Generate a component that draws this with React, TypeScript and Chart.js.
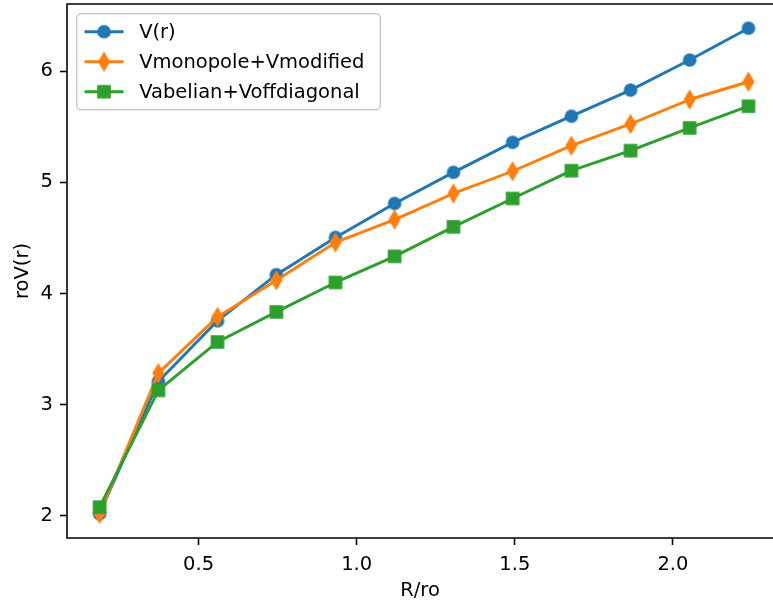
import React, { useEffect, useRef } from 'react';
import { Chart, registerables } from 'chart.js';

Chart.register(...registerables);

// ---- data ----
const rOverR0 = [0.187, 0.373, 0.56, 0.746, 0.933, 1.12, 1.306, 1.493, 1.679, 1.866, 2.053, 2.239];
const vTotal = [2.02, 3.21, 3.755, 4.17, 4.505, 4.81, 5.09, 5.36, 5.595, 5.83, 6.1, 6.386];
const vMonoMod = [2.02, 3.285, 3.79, 4.12, 4.46, 4.665, 4.9, 5.1, 5.33, 5.525, 5.745, 5.905];
const vAbelOff = [2.08, 3.13, 3.565, 3.835, 4.1, 4.335, 4.6, 4.855, 5.105, 5.285, 5.49, 5.685];
const seriesLabels = ['V(r)', 'Vmonopole+Vmodified', 'Vabelian+Voffdiagonal'];
const xTicks = [0.5, 1.0, 1.5, 2.0];
const yTicks = [2, 3, 4, 5, 6];
const xTitle = 'R/ro';
const yTitle = 'roV(r)';
// visible axis window (the right-hand spine lies just past the picture's edge)
const xMin = 0.084;
const xMax = 2.3165;
const yMin = 1.802;
const yMax = 6.604;

// ---- style ----
const PXPT = 1.95;
const FS = 19.5;
const FONT = '"DejaVu Sans", sans-serif';
const LW = 1.5 * PXPT;
const MS = 6 * PXPT;
const EDGE = 1.0 * PXPT;
const COLORS = ['#1f77b4', '#ff7f0e', '#2ca02c'];
const KINDS = ['circle', 'diamond', 'square'];
const CANVAS_W = 773;
const CANVAS_H = 605;

function makeMarker(kind: string, color: string): HTMLCanvasElement {
  const c = document.createElement('canvas');
  c.width = 24;
  c.height = 24;
  const g = c.getContext('2d')!;
  g.fillStyle = color;
  g.strokeStyle = color;
  g.lineWidth = EDGE;
  g.lineJoin = 'miter';
  const cx = 12;
  const cy = 12;
  g.beginPath();
  if (kind === 'circle') {
    g.arc(cx, cy, MS / 2, 0, Math.PI * 2);
  } else if (kind === 'square') {
    g.rect(cx - MS / 2, cy - MS / 2, MS, MS);
  } else {
    const h = (MS * Math.SQRT2) / 2;
    const w = h * 0.6;
    g.moveTo(cx, cy - h);
    g.lineTo(cx + w, cy);
    g.lineTo(cx, cy + h);
    g.lineTo(cx - w, cy);
    g.closePath();
  }
  g.fill();
  g.stroke();
  return c;
}

const framePlugin = {
  id: 'mplFrame',
  afterDatasetsDraw(chart: any) {
    const { ctx, chartArea: a } = chart;
    ctx.save();
    // keep the right edge of the plotting area clean (its spine lies beyond the picture)
    ctx.fillStyle = '#fff';
    ctx.fillRect(a.right - 3, a.top, 3, a.bottom - a.top);
    ctx.strokeStyle = '#000';
    ctx.lineWidth = 0.8 * PXPT;
    ctx.beginPath();
    ctx.moveTo(chart.width + 2, a.top);
    ctx.lineTo(a.left, a.top);
    ctx.lineTo(a.left, a.bottom);
    ctx.lineTo(chart.width + 2, a.bottom);
    ctx.stroke();
    ctx.restore();
  },
};

const legendPlugin = {
  id: 'mplLegend',
  afterDatasetsDraw(chart: any) {
    const { ctx, chartArea: a } = chart;
    const markers: HTMLCanvasElement[] = chart.$mplMarkers || [];
    ctx.save();
    ctx.font = `${FS}px ${FONT}`;
    const pad = 0.4 * FS;
    const rowH = 1.04 * FS;
    const sp = 0.5 * FS;
    const handleL = 2 * FS;
    const tp = 0.8 * FS;
    const x0 = a.left + 0.5 * FS;
    const y0 = a.top + 0.5 * FS;
    const maxW = Math.max(...seriesLabels.map((l) => ctx.measureText(l).width));
    const w = pad + handleL + tp + maxW + pad + 8;
    const h = 2 * pad + seriesLabels.length * rowH + (seriesLabels.length - 1) * sp;
    ctx.beginPath();
    ctx.roundRect(x0, y0, w, h, 4);
    ctx.fillStyle = 'rgba(255,255,255,0.8)';
    ctx.fill();
    ctx.strokeStyle = '#cccccc';
    ctx.lineWidth = 1.5;
    ctx.stroke();
    seriesLabels.forEach((label, i) => {
      const cy = y0 + pad + rowH / 2 + i * (rowH + sp);
      const hx0 = x0 + pad;
      ctx.beginPath();
      ctx.moveTo(hx0, cy);
      ctx.lineTo(hx0 + handleL, cy);
      ctx.strokeStyle = COLORS[i];
      ctx.lineWidth = LW;
      ctx.stroke();
      const m = markers[i];
      if (m) ctx.drawImage(m, hx0 + handleL / 2 - m.width / 2, cy - m.height / 2);
      ctx.fillStyle = '#000';
      ctx.textAlign = 'left';
      ctx.textBaseline = 'middle';
      ctx.fillText(label, hx0 + handleL + tp, cy + 1);
    });
    ctx.restore();
  },
};

export default function App() {
  const ref = useRef<HTMLCanvasElement>(null);

  useEffect(() => {
    const canvas = ref.current;
    if (!canvas) return;
    const markers = KINDS.map((k, i) => makeMarker(k, COLORS[i]));
    const series = [vTotal, vMonoMod, vAbelOff];
    const font = { family: FONT, size: FS };
    const chart: any = new Chart(canvas, {
      type: 'line',
      data: {
        datasets: series.map((s, i) => ({
          label: seriesLabels[i],
          data: s.map((y, j) => ({ x: rOverR0[j], y })),
          borderColor: COLORS[i],
          backgroundColor: COLORS[i],
          borderWidth: LW,
          borderJoinStyle: 'round',
          pointStyle: markers[i],
          pointRadius: 6,
          pointHoverRadius: 6,
          tension: 0,
          fill: false,
          order: 3 - i,
        })),
      },
      options: {
        responsive: false,
        animation: false,
        devicePixelRatio: 1,
        events: [],
        layout: { autoPadding: false, padding: { left: 0, top: 4, right: 0, bottom: 0 } },
        plugins: { legend: { display: false }, tooltip: { enabled: false } },
        scales: {
          x: {
            type: 'linear',
            min: xMin,
            max: xMax,
            afterFit: (s: any) => {
              s.height = 67;
              s.paddingLeft = 0;
              s.paddingRight = 0;
              s.paddingTop = 0;
              s.paddingBottom = 0;
            },
            afterBuildTicks: (s: any) => {
              s.ticks = xTicks.map((v) => ({ value: v }));
            },
            ticks: {
              callback: (v: any) => Number(v).toFixed(1),
              font,
              color: '#000',
              padding: 8,
              maxRotation: 0,
              autoSkip: false,
            },
            grid: {
              drawOnChartArea: false,
              drawTicks: true,
              tickLength: 7,
              tickColor: '#000',
              tickWidth: 0.8 * PXPT,
            },
            border: { display: false },
            title: { display: true, text: xTitle, font, color: '#000', padding: { top: 0, bottom: 2 } },
          },
          y: {
            type: 'linear',
            min: yMin,
            max: yMax,
            afterFit: (s: any) => {
              s.width = 67;
              s.paddingLeft = 0;
              s.paddingRight = 0;
              s.paddingTop = 0;
              s.paddingBottom = 0;
            },
            afterBuildTicks: (s: any) => {
              s.ticks = yTicks.map((v) => ({ value: v }));
            },
            ticks: {
              callback: (v: any) => String(Math.round(Number(v))),
              font,
              color: '#000',
              padding: 7,
              autoSkip: false,
            },
            grid: {
              drawOnChartArea: false,
              drawTicks: true,
              tickLength: 7,
              tickColor: '#000',
              tickWidth: 0.8 * PXPT,
            },
            border: { display: false },
            title: { display: true, text: yTitle, font, color: '#000', padding: { top: 11, bottom: 0 } },
          },
        },
      } as any,
      plugins: [framePlugin, legendPlugin],
    } as any);
    chart.$mplMarkers = markers;
    chart.draw();
    return () => chart.destroy();
  }, []);

  return (
    <div
      style={{
        position: 'absolute',
        left: 0,
        top: 0,
        width: 773,
        height: 605,
        overflow: 'hidden',
        background: '#fff',
      }}
    >
      <canvas ref={ref} width={CANVAS_W} height={CANVAS_H} style={{ display: 'block', width: CANVAS_W, height: CANVAS_H }} />
    </div>
  );
}
